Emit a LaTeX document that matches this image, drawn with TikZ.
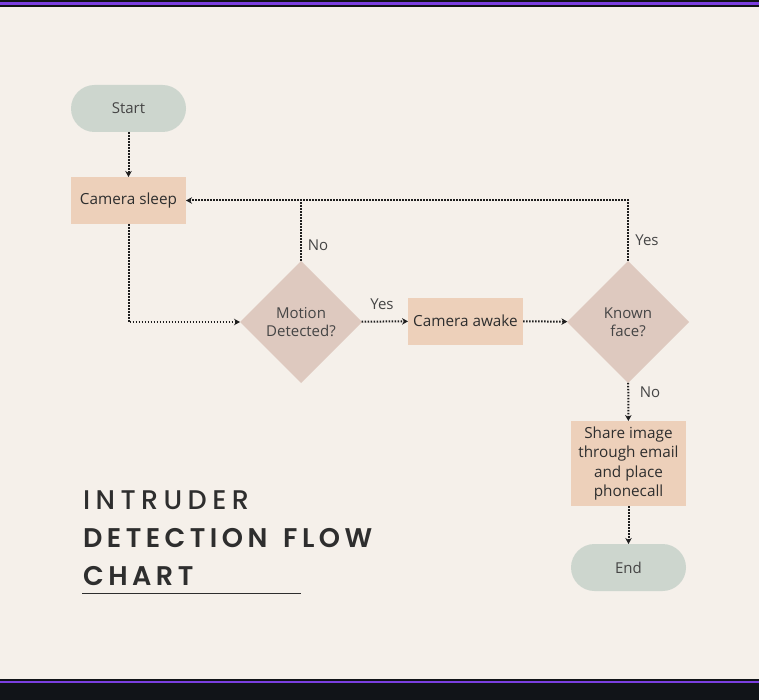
\documentclass[tikz,border=0pt]{standalone}
\usepackage{fontspec}
\setmainfont{Open Sans}
\newfontfamily\titlefontA[LetterSpace=20, UprightFont=* Medium]{Poppins}
\newfontfamily\titlefontB[LetterSpace=16.5, UprightFont=* SemiBold]{Poppins}
\usetikzlibrary{arrows.meta,shapes.geometric}
\definecolor{bg}{HTML}{F5F0EA}
\definecolor{bardark}{HTML}{111418}
\definecolor{barpurple}{HTML}{7B3FE0}
\definecolor{pillc}{HTML}{CDD6CE}
\definecolor{boxc}{HTML}{EDD0BA}
\definecolor{diac}{HTML}{DEC9BF}
\definecolor{txt}{HTML}{2E2E2E}
\definecolor{txtl}{HTML}{454545}
\definecolor{linec}{HTML}{1E1E1E}
\tikzset{
  pill/.style={fill=pillc, rounded corners=23.5pt, minimum width=115pt, minimum height=47pt, inner sep=0pt, outer sep=0pt, text=txtl, font=\fontsize{15}{18}\selectfont},
  box/.style={fill=boxc, minimum width=115pt, minimum height=47pt, inner sep=0pt, outer sep=0pt, text=txt, align=center, font=\fontsize{15.3}{19.5}\selectfont},
  dia/.style={diamond, fill=diac, minimum width=122pt, minimum height=122pt, inner sep=0pt, outer sep=0pt, text=txtl, align=center, font=\fontsize{15}{18}\selectfont},
  conn/.style={draw=linec, line width=2pt, dash pattern=on 1.6pt off 1.4pt, -{Stealth[length=6pt,width=6.5pt]}},
  plainline/.style={draw=linec, line width=2pt, dash pattern=on 1.6pt off 1.4pt},
  lbl/.style={text=txtl, inner sep=0pt, font=\fontsize{15}{18}\selectfont},
}
\begin{document}
\begin{tikzpicture}[x=1pt,y=-1pt]
\useasboundingbox (0,0) rectangle (759,700);
\fill[bardark] (0,0) rectangle (759,7);
\fill[barpurple] (0,2.3) rectangle (759,5);
\fill[bg] (0,7) rectangle (759,679);
\fill[bardark] (0,679) rectangle (759,700);
\fill[barpurple] (0,680.6) rectangle (759,683);

\node[pill] (start) at (128.5,108.5) {Start};
\node[box] (sleep) at (128.5,200.5) {Camera sleep};
\node[dia] (motion) at (301,322) {Motion\\Detected?};
\node[box] (awake) at (465.5,321) {Camera awake};
\node[dia] (known) at (628,322) {Known\\face?};
\node[box, minimum height=85pt] (share) at (628.5,463.5) {Share image\\through email\\and place\\phonecall};
\node[pill] (end) at (628.5,567.5) {End};

\coordinate (jn) at (motion.north |- sleep.east);

\draw[conn] (start) -- (sleep);
\draw[conn] (sleep.south) |- (motion.west);
\draw[plainline] (known.north) |- (jn);
\draw[conn] (motion.north) |- (sleep.east);
\draw[conn] (motion) -- (awake);
\draw[conn] (awake) -- (known);
\draw[conn] (known) -- (share);
\draw[conn] (share) -- (end);

\node[lbl] (l1) at (318,245) {No};
\node[lbl] (l2) at (382,304) {Yes};
\node[lbl] (l3) at (647,240) {Yes};
\node[lbl] (l4) at (650,392) {No};

\node[anchor=base west, inner sep=0pt, text=txt, font=\titlefontA\fontsize{27}{30}\selectfont] (t1) at (83,509) {INTRUDER};
\node[anchor=base west, inner sep=0pt, text=txt, font=\titlefontB\fontsize{27}{30}\selectfont] (t2) at (83,547) {DETECTION\hspace{5pt} FLOW};
\node[anchor=base west, inner sep=0pt, text=txt, font=\titlefontB\fontsize{27}{30}\selectfont] (t3) at (83,585) {CHART};
\draw[txt, line width=1pt] (82,593) -- (301,593);
\end{tikzpicture}
\end{document}
